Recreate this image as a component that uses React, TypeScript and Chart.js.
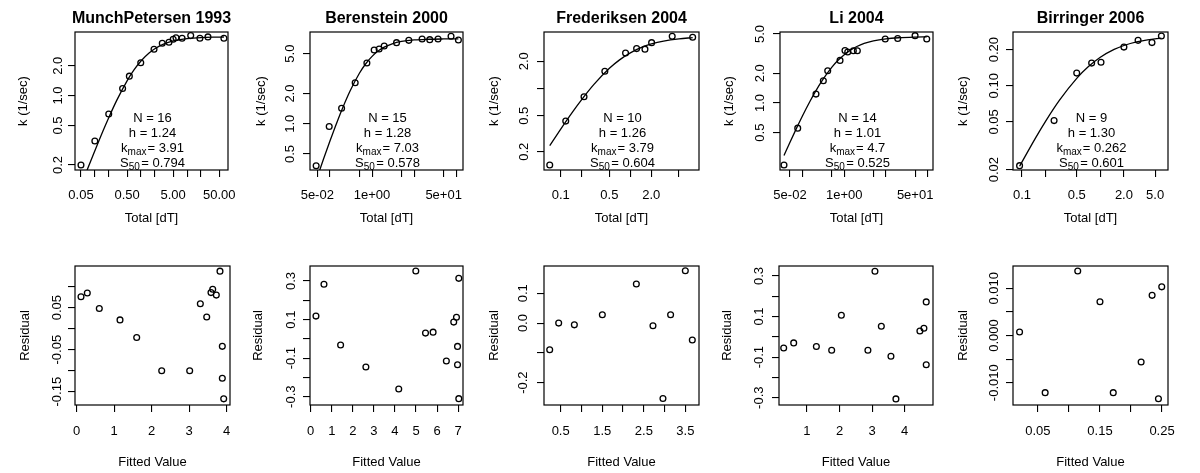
import React, { useEffect, useRef } from "react";
import { Chart, registerables } from "chart.js";

Chart.register(...registerables);

const FONT = "'Liberation Sans', Arial, Helvetica, sans-serif";

// ---------------- data: MunchPetersen 1993 ----------------
const mpTotal = [0.05, 0.1, 0.2, 0.4, 0.56, 0.99, 1.92, 2.9, 4.05, 5.0, 5.75, 7.8, 12, 19, 28.4, 63];
const mpK = [0.2, 0.349, 0.653, 1.18, 1.57, 2.14, 2.93, 3.37, 3.44, 3.69, 3.83, 3.78, 4.02, 3.78, 3.9, 3.78];
const mpFitTotal = [0.05, 0.07, 0.1, 0.15, 0.2, 0.3, 0.5, 0.7, 1, 1.5, 2, 3, 5, 7, 10, 20, 40, 63];
const mpFitK = [0.123, 0.184, 0.278, 0.44, 0.599, 0.9, 1.409, 1.803, 2.233, 2.689, 2.967, 3.279, 3.548, 3.664, 3.748, 3.84, 3.88, 3.893];
const mpFitted = [0.115, 0.283, 0.603, 1.155, 1.6, 2.267, 3.013, 3.297, 3.467, 3.581, 3.627, 3.723, 3.821, 3.883, 3.883, 3.92];
const mpResid = [0.076, 0.085, 0.048, 0.021, -0.021, -0.1, -0.1, 0.0595, 0.028, 0.086, 0.094, 0.08, 0.137, -0.042, -0.118, -0.167];
const mpStats = { n: "16", h: "1.24", kmax: "3.91", s50: "0.794" };

// ---------------- data: Berenstein 2000 ----------------
const beTotal = [0.047, 0.096, 0.189, 0.397, 0.753, 1.12, 1.47, 1.94, 3.81, 7.45, 15.4, 23.4, 36.8, 74.9, 112];
const beK = [0.382, 0.94, 1.43, 2.56, 4.03, 5.43, 5.56, 5.96, 6.44, 6.79, 7.0, 6.9, 7.0, 7.45, 6.84];
const beFitTotal = [0.047, 0.07, 0.1, 0.15, 0.2, 0.3, 0.5, 0.7, 1, 1.5, 2, 3, 5, 10, 20, 50, 112];
const beFitK = [0.272, 0.442, 0.673, 1.062, 1.438, 2.121, 3.19, 3.944, 4.7, 5.429, 5.838, 6.269, 6.612, 6.852, 6.956, 7.007, 7.022];
const beFitted = [0.25, 0.63, 1.42, 2.62, 4.18, 4.99, 5.45, 5.81, 6.44, 6.79, 6.92, 6.97, 6.97, 7.03, 7.03];
const beResid = [0.118, 0.283, -0.032, -0.146, -0.26, 0.352, 0.03, 0.035, -0.115, 0.087, 0.112, -0.039, -0.134, 0.314, -0.31];
const beStats = { n: "15", h: "1.28", kmax: "7.03", s50: "0.578" };

// ---------------- data: Frederiksen 2004 ----------------
const frTotal = [0.0695, 0.118, 0.216, 0.43, 0.853, 1.23, 1.62, 2.02, 3.99, 7.85];
const frK = [0.1426, 0.436, 0.809, 1.55, 2.47, 2.76, 2.72, 3.21, 3.78, 3.68];
const frFitTotal = [0.0695, 0.1, 0.15, 0.2, 0.3, 0.5, 0.7, 1, 1.5, 2, 3, 5, 7.85];
const frFitK = [0.233, 0.356, 0.559, 0.754, 1.11, 1.671, 2.071, 2.478, 2.876, 3.104, 3.346, 3.543, 3.646];
const frFitted = [0.236, 0.452, 0.829, 1.502, 2.32, 2.72, 2.96, 3.144, 3.498, 3.666];
const frResid = [-0.0896, 0.0, -0.006, 0.028, 0.131, -0.009, -0.253, 0.028, 0.1755, -0.057];
const frStats = { n: "10", h: "1.26", kmax: "3.79", s50: "0.604" };

// ---------------- data: Li 2004 ----------------
const liTotal = [0.0359, 0.0766, 0.21, 0.315, 0.401, 0.791, 1.04, 1.21, 1.65, 2.06, 9.6, 19.1, 49.8, 94.9];
const liK = [0.235, 0.555, 1.23, 1.68, 2.12, 2.7, 3.4, 3.28, 3.38, 3.38, 4.45, 4.51, 4.81, 4.45];
const liFitTotal = [0.0359, 0.05, 0.07, 0.1, 0.15, 0.2, 0.3, 0.5, 0.7, 1, 1.5, 2, 3, 5, 10, 20, 50, 94.9];
const liFitK = [0.293, 0.4, 0.543, 0.742, 1.034, 1.288, 1.703, 2.292, 2.689, 3.089, 3.491, 3.733, 4.01, 4.262, 4.472, 4.584, 4.653, 4.675];
const liFitted = [0.285, 0.592, 1.288, 1.758, 2.055, 2.87, 3.086, 3.282, 3.577, 3.73, 4.466, 4.589, 4.66, 4.66];
const liResid = [-0.055, -0.03, -0.048, -0.066, 0.106, -0.066, 0.323, 0.052, -0.096, -0.306, 0.029, 0.042, 0.172, -0.138];
const liStats = { n: "14", h: "1.01", kmax: "4.7", s50: "0.525" };

// ---------------- data: Birringer 2006 ----------------
const biTotal = [0.0933, 0.257, 0.5, 0.775, 1.02, 2.0, 3.03, 4.56, 6.01];
const biK = [0.0216, 0.0513, 0.1276, 0.1545, 0.157, 0.21, 0.239, 0.229, 0.26];
const biFitTotal = [0.0933, 0.15, 0.2, 0.3, 0.5, 0.7, 1, 1.5, 2, 3, 4, 6.01];
const biFitK = [0.02136, 0.03703, 0.05058, 0.07556, 0.11541, 0.14394, 0.17284, 0.20085, 0.21662, 0.23316, 0.24146, 0.2495];
const biFitted = [0.0205, 0.0617, 0.1142, 0.15, 0.1714, 0.2163, 0.234, 0.2442, 0.2495];
const biResid = [0.00074, -0.0121, 0.01367, 0.00716, -0.0121, -0.0056, 0.0085, -0.0134, 0.0103];
const biStats = { n: "9", h: "1.30", kmax: "0.262", s50: "0.601" };

// ---------------- axis ticks, labels and ranges ----------------
const mpXTicks = [0.05, 0.1, 0.2, 0.5, 1, 2, 5, 10, 20, 50];
const mpXLabels = ["0.05", "", "", "0.50", "", "", "5.00", "", "", "50.00"];
const mpYTicks = [0.2, 0.5, 1, 2];
const mpYLabels = ["0.2", "0.5", "1.0", "2.0"];
const mpXRange = [0.0371, 77.3];
const mpYRange = [0.178, 4.37];

const sciXTicks = [0.05, 0.1, 0.5, 1, 5, 10, 50, 100];
const sciXLabels = ["5e-02", "", "", "1e+00", "", "", "5e+01", ""];
const beYTicks = [0.5, 1, 2, 5];
const beYLabels = ["0.5", "1.0", "2.0", "5.0"];
const beXRange = [0.0336, 144];
const beYRange = [0.346, 8.22];

const frXTicks = [0.1, 0.2, 0.5, 1, 2, 5];
const frXLabels = ["0.1", "", "0.5", "", "2.0", ""];
const frYTicks = [0.2, 0.5, 1, 2];
const frYLabels = ["0.2", "0.5", "", "2.0"];
const frXRange = [0.0575, 9.68];
const frYRange = [0.1256, 4.21];

const liYTicks = [0.5, 1, 2, 5];
const liYLabels = ["0.5", "1.0", "2.0", "5.0"];
const liXRange = [0.0288, 134];
const liYRange = [0.209, 5.24];

const biXTicks = [0.1, 0.2, 0.5, 1, 2, 5];
const biXLabels = ["0.1", "", "0.5", "", "2.0", "5.0"];
const biYTicks = [0.02, 0.05, 0.1, 0.2];
const biYLabels = ["0.02", "0.05", "0.10", "0.20"];
const biXRange = [0.0769, 7.3];
const biYRange = [0.01988, 0.2806];

const mpRXTicks = [0, 1, 2, 3, 4];
const mpRXLabels = ["0", "1", "2", "3", "4"];
const mpRYTicks = [-0.15, -0.1, -0.05, 0, 0.05, 0.1];
const mpRYLabels = ["-0.15", "", "-0.05", "", "0.05", ""];
const mpRXRange = [-0.045, 4.088];
const mpRYRange = [-0.1817, 0.1493];

const beRXTicks = [0, 1, 2, 3, 4, 5, 6, 7];
const beRXLabels = ["0", "1", "2", "3", "4", "5", "6", "7"];
const r3Ticks = [-0.3, -0.2, -0.1, 0, 0.1, 0.2, 0.3];
const r3Labels = ["-0.3", "", "-0.1", "", "0.1", "", "0.3"];
const beRXRange = [-0.033, 7.23];
const beRYRange = [-0.343, 0.378];

const frRXTicks = [0.5, 1, 1.5, 2, 2.5, 3, 3.5];
const frRXLabels = ["0.5", "", "1.5", "", "2.5", "", "3.5"];
const frRYTicks = [-0.2, -0.1, 0, 0.1];
const frRYLabels = ["-0.2", "", "0.0", "0.1"];
const frRXRange = [0.099, 3.827];
const frRYRange = [-0.275, 0.1916];

const liRXTicks = [1, 2, 3, 4];
const liRXLabels = ["1", "2", "3", "4"];
const liRXRange = [0.141, 4.868];
const liRYRange = [-0.336, 0.349];

const biRXTicks = [0.05, 0.1, 0.15, 0.2, 0.25];
const biRXLabels = ["0.05", "", "0.15", "", "0.25"];
const biRYTicks = [-0.01, -0.005, 0, 0.005, 0.01];
const biRYLabels = ["-0.010", "", "0.000", "", "0.010"];
const biRXRange = [0.0099, 0.2596];
const biRYRange = [-0.01472, 0.01472];

// ---------------- layout ----------------
const ROWS = [
  { canvasTop: 0, canvasH: 236, boxTop: 32, boxBottom: 170, xLabOff: 25, xTitleY: 218 },
  { canvasTop: 236, canvasH: 237, boxTop: 266, boxBottom: 405, xLabOff: 26, xTitleY: 462 },
];
const LEFT_W = 75;
const TICK_LEN = 7;
const TITLE_PAD_TOP = 8.9;

type PanelDef = {
  row: number;
  box: number[];
  log: boolean;
  title?: string;
  xTitle: string;
  yTitle: string;
  xRange: number[];
  yRange: number[];
  xTicks: number[];
  xLabels: string[];
  yTicks: number[];
  yLabels: string[];
  px: number[];
  py: number[];
  cx?: number[];
  cy?: number[];
  stats?: { n: string; h: string; kmax: string; s50: string };
  yLabOff: number;
  yTitleOff: number;
};

const PANELS: PanelDef[] = [
  { row: 0, box: [75, 228], log: true, title: "MunchPetersen 1993", xTitle: "Total [dT]", yTitle: "k (1/sec)",
    xRange: mpXRange, yRange: mpYRange, xTicks: mpXTicks, xLabels: mpXLabels, yTicks: mpYTicks, yLabels: mpYLabels,
    px: mpTotal, py: mpK, cx: mpFitTotal, cy: mpFitK, stats: mpStats, yLabOff: 17, yTitleOff: 52 },
  { row: 0, box: [310, 463], log: true, title: "Berenstein 2000", xTitle: "Total [dT]", yTitle: "k (1/sec)",
    xRange: beXRange, yRange: beYRange, xTicks: sciXTicks, xLabels: sciXLabels, yTicks: beYTicks, yLabels: beYLabels,
    px: beTotal, py: beK, cx: beFitTotal, cy: beFitK, stats: beStats, yLabOff: 20, yTitleOff: 49 },
  { row: 0, box: [544, 699], log: true, title: "Frederiksen 2004", xTitle: "Total [dT]", yTitle: "k (1/sec)",
    xRange: frXRange, yRange: frYRange, xTicks: frXTicks, xLabels: frXLabels, yTicks: frYTicks, yLabels: frYLabels,
    px: frTotal, py: frK, cx: frFitTotal, cy: frFitK, stats: frStats, yLabOff: 20, yTitleOff: 49.5 },
  { row: 0, box: [780, 933], log: true, title: "Li 2004", xTitle: "Total [dT]", yTitle: "k (1/sec)",
    xRange: liXRange, yRange: liYRange, xTicks: sciXTicks, xLabels: sciXLabels, yTicks: liYTicks, yLabels: liYLabels,
    px: liTotal, py: liK, cx: liFitTotal, cy: liFitK, stats: liStats, yLabOff: 19.3, yTitleOff: 50.5 },
  { row: 0, box: [1013, 1168], log: true, title: "Birringer 2006", xTitle: "Total [dT]", yTitle: "k (1/sec)",
    xRange: biXRange, yRange: biYRange, xTicks: biXTicks, xLabels: biXLabels, yTicks: biYTicks, yLabels: biYLabels,
    px: biTotal, py: biK, cx: biFitTotal, cy: biFitK, stats: biStats, yLabOff: 18.7, yTitleOff: 50 },
  { row: 1, box: [75, 230], log: false, xTitle: "Fitted Value", yTitle: "Residual",
    xRange: mpRXRange, yRange: mpRYRange, xTicks: mpRXTicks, xLabels: mpRXLabels, yTicks: mpRYTicks, yLabels: mpRYLabels,
    px: mpFitted, py: mpResid, yLabOff: 17.7, yTitleOff: 50 },
  { row: 1, box: [310, 463], log: false, xTitle: "Fitted Value", yTitle: "Residual",
    xRange: beRXRange, yRange: beRYRange, xTicks: beRXTicks, xLabels: beRXLabels, yTicks: r3Ticks, yLabels: r3Labels,
    px: beFitted, py: beResid, yLabOff: 18.5, yTitleOff: 51.5 },
  { row: 1, box: [544, 699], log: false, xTitle: "Fitted Value", yTitle: "Residual",
    xRange: frRXRange, yRange: frRYRange, xTicks: frRXTicks, xLabels: frRXLabels, yTicks: frRYTicks, yLabels: frRYLabels,
    px: frFitted, py: frResid, yLabOff: 20.5, yTitleOff: 49.5 },
  { row: 1, box: [779, 933], log: false, xTitle: "Fitted Value", yTitle: "Residual",
    xRange: liRXRange, yRange: liRYRange, xTicks: liRXTicks, xLabels: liRXLabels, yTicks: r3Ticks, yLabels: r3Labels,
    px: liFitted, py: liResid, yLabOff: 19.3, yTitleOff: 52 },
  { row: 1, box: [1013, 1168], log: false, xTitle: "Fitted Value", yTitle: "Residual",
    xRange: biRXRange, yRange: biRYRange, xTicks: biRXTicks, xLabels: biRXLabels, yTicks: biRYTicks, yLabels: biRYLabels,
    px: biFitted, py: biResid, yLabOff: 18.7, yTitleOff: 50 },
];

const boxPlugin = {
  id: "rbox",
  afterDraw(chart: any) {
    const { ctx, chartArea } = chart;
    ctx.save();
    ctx.strokeStyle = "#000";
    ctx.lineWidth = 1.2;
    ctx.strokeRect(chartArea.left, chartArea.top, chartArea.right - chartArea.left, chartArea.bottom - chartArea.top);
    ctx.restore();
  },
};

function makeStatsPlugin(p: PanelDef) {
  return {
    id: "rstats",
    afterDatasetsDraw(chart: any) {
      if (!p.stats) return;
      const { ctx, chartArea } = chart;
      const cx = (chartArea.left + chartArea.right) / 2 + 1;
      const main = `13px ${FONT}`;
      const small = `10px ${FONT}`;
      const lines = [
        [{ t: `N = ${p.stats.n}`, f: main, dy: 0, gap: 0 }],
        [{ t: `h = ${p.stats.h}`, f: main, dy: 0, gap: 0 }],
        [
          { t: "k", f: main, dy: 0, gap: 0 },
          { t: "max", f: small, dy: 3.5, gap: 0 },
          { t: `= ${p.stats.kmax}`, f: main, dy: 0, gap: 1 },
        ],
        [
          { t: "S", f: main, dy: 0, gap: 0 },
          { t: "50", f: small, dy: 3.5, gap: 0 },
          { t: `= ${p.stats.s50}`, f: main, dy: 0, gap: 1.5 },
        ],
      ];
      const baselines = [-48.3, -33.3, -18.3, -3.5];
      ctx.save();
      ctx.fillStyle = "#000";
      ctx.textBaseline = "alphabetic";
      ctx.textAlign = "left";
      lines.forEach((segs, li) => {
        let total = 0;
        const widths = segs.map((s) => {
          ctx.font = s.f;
          const w = ctx.measureText(s.t).width;
          total += w + s.gap;
          return w;
        });
        let x = cx - total / 2;
        const y = chartArea.bottom + baselines[li];
        segs.forEach((s, i) => {
          x += s.gap;
          ctx.font = s.f;
          ctx.fillText(s.t, x, y + s.dy);
          x += widths[i];
        });
      });
      ctx.restore();
    },
  };
}

function RPanel({ p }: { p: PanelDef }) {
  const ref = useRef<HTMLCanvasElement>(null);
  const g = ROWS[p.row];
  const left = p.box[0] - LEFT_W;
  const width = p.box[1] - p.box[0] + 2 * LEFT_W;

  useEffect(() => {
    const canvas = ref.current as HTMLCanvasElement;
    const mctx = canvas.getContext("2d") as CanvasRenderingContext2D;
    mctx.font = `13px ${FONT}`;
    const widest = Math.max(0, ...p.yLabels.map((l) => mctx.measureText(l).width));
    const lh = 13 * 1.2;
    const yTickPad = p.yLabOff - TICK_LEN - widest / 2;
    const xTickPad = g.xLabOff - TICK_LEN - lh / 2;
    const xTitlePad = g.canvasTop + g.canvasH - g.xTitleY - lh / 2;
    const yTitlePad = LEFT_W - p.yTitleOff - lh / 2;
    const xScaleH = g.canvasTop + g.canvasH - g.boxBottom;
    const tickFont = { family: FONT, size: 13, lineHeight: 1.2 };
    const grid = { display: true, drawOnChartArea: false, drawTicks: true, tickLength: TICK_LEN, color: "#000", lineWidth: 1.1 };

    const datasets: any[] = [];
    if (p.cx && p.cy) {
      const cy = p.cy;
      datasets.push({
        type: "line",
        data: p.cx.map((x, i) => ({ x, y: cy[i] })),
        showLine: true,
        pointRadius: 0,
        pointHoverRadius: 0,
        borderColor: "#000",
        borderWidth: 1.3,
        cubicInterpolationMode: "monotone",
        fill: false,
      });
    }
    datasets.push({
      type: "scatter",
      data: p.px.map((x, i) => ({ x, y: p.py[i] })),
      showLine: false,
      pointRadius: 2.9,
      pointHoverRadius: 2.9,
      pointBorderWidth: 1.3,
      pointBorderColor: "#000",
      pointBackgroundColor: "rgba(0,0,0,0)",
      borderColor: "#000",
      backgroundColor: "rgba(0,0,0,0)",
      clip: false,
    });

    const chart = new Chart(canvas, {
      type: "scatter",
      data: { datasets },
      options: {
        responsive: false,
        animation: false,
        devicePixelRatio: 1,
        events: [],
        layout: { padding: { left: 0, right: 0, top: p.title ? 0 : g.boxTop - g.canvasTop, bottom: 0 } },
        plugins: {
          legend: { display: false },
          tooltip: { enabled: false },
          title: p.title
            ? {
                display: true,
                text: p.title,
                color: "#000",
                font: { family: FONT, size: 16, weight: "bold", lineHeight: 1.2 },
                padding: { top: TITLE_PAD_TOP, bottom: g.boxTop - TITLE_PAD_TOP - 16 * 1.2 },
              }
            : { display: false },
        },
        scales: {
          x: {
            type: p.log ? "logarithmic" : "linear",
            position: "bottom",
            min: p.xRange[0],
            max: p.xRange[1],
            bounds: "data",
            afterBuildTicks: (s: any) => {
              s.ticks = p.xTicks.map((v) => ({ value: v }));
            },
            afterFit: (s: any) => {
              s.height = xScaleH;
            },
            ticks: {
              autoSkip: false,
              minRotation: 0,
              maxRotation: 0,
              padding: xTickPad,
              color: "#000",
              font: tickFont,
              callback: (_v: any, i: number) => p.xLabels[i],
            },
            grid,
            border: { display: false },
            title: {
              display: true,
              text: p.xTitle,
              color: "#000",
              font: tickFont,
              padding: { top: 0, bottom: xTitlePad },
            },
          },
          y: {
            type: p.log ? "logarithmic" : "linear",
            position: "left",
            min: p.yRange[0],
            max: p.yRange[1],
            bounds: "data",
            afterBuildTicks: (s: any) => {
              s.ticks = p.yTicks.map((v) => ({ value: v }));
            },
            afterFit: (s: any) => {
              s.width = LEFT_W;
            },
            ticks: {
              autoSkip: false,
              minRotation: 90,
              maxRotation: 90,
              crossAlign: "center",
              padding: yTickPad,
              color: "#000",
              font: tickFont,
              callback: (_v: any, i: number) => p.yLabels[i],
            },
            grid,
            border: { display: false },
            title: {
              display: true,
              text: p.yTitle,
              color: "#000",
              font: tickFont,
              padding: { top: yTitlePad, bottom: 0 },
            },
          },
          ySpacer: {
            type: "linear",
            position: "right",
            display: true,
            min: 0,
            max: 1,
            afterFit: (s: any) => {
              s.width = LEFT_W;
            },
            ticks: { display: false },
            grid: { display: false },
            border: { display: false },
            title: { display: false },
          },
        },
      } as any,
      plugins: [boxPlugin, makeStatsPlugin(p)],
    } as any);
    return () => chart.destroy();
  }, []);

  return (
    <canvas
      ref={ref}
      width={width}
      height={g.canvasH}
      style={{ position: "absolute", left, top: g.canvasTop, width, height: g.canvasH }}
    />
  );
}

export default function App() {
  useEffect(() => {
    document.body.style.margin = "0";
  }, []);
  return (
    <div
      style={{
        position: "fixed",
        left: 0,
        top: 0,
        width: 1200,
        height: 473,
        background: "#fff",
        overflow: "hidden",
      }}
    >
      {PANELS.map((p, i) => (
        <RPanel key={i} p={p} />
      ))}
    </div>
  );
}
